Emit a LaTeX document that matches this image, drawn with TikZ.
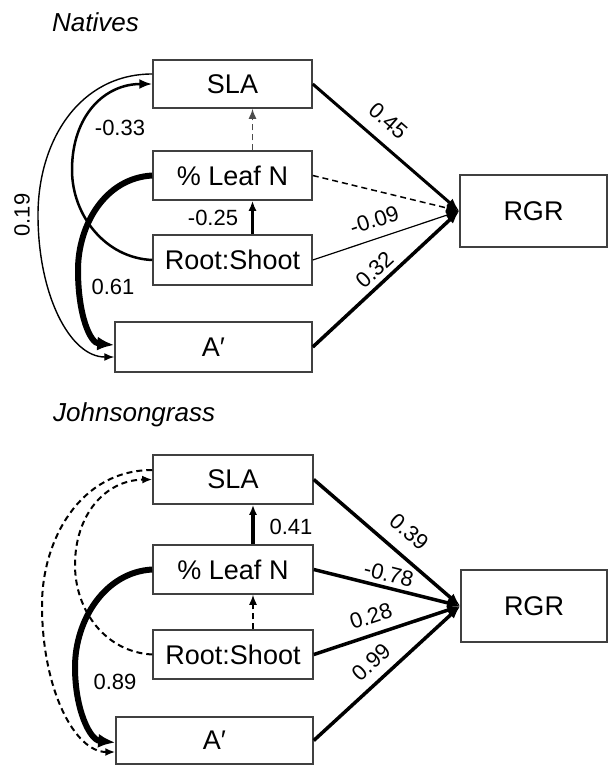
\documentclass[tikz,border=0pt]{standalone}
\usepackage{fontspec}
\setmainfont{Liberation Sans}
\usetikzlibrary{arrows.meta}
\begin{document}
\begin{tikzpicture}[x=1pt,y=-1pt,
  box/.style={draw=black!75,line width=1.5pt,rectangle,inner sep=0pt,font=\fontsize{27}{30}\selectfont},
  lbl/.style={font=\fontsize{22}{26}\selectfont,inner sep=0pt},
  ttl/.style={font=\fontsize{26}{30}\selectfont\itshape,anchor=west,inner sep=0pt},
  tipS/.style={-{Latex[length=10pt,width=8pt]}},
  tipM/.style={-{Latex[length=13pt,width=10pt]}},
  tipL/.style={-{Latex[length=17pt,width=14pt]}},
  dsh/.style={dash pattern=on 6pt off 4pt},
  slbl/.style={lbl,sloped}]
\useasboundingbox (0,0) rectangle (608,766);

% ---------- Natives ----------
\node[ttl] (t1) at (52,22) {Natives};
\node[box,minimum width=159pt,minimum height=48pt] (sla1) at (232.5,84) {SLA};
\node[box,minimum width=159pt,minimum height=49pt] (ln1) at (232.5,175.5) {\% Leaf N};
\node[box,minimum width=159pt,minimum height=50pt] (rs1) at (232.5,260) {Root:Shoot};
\node[box,minimum width=197pt,minimum height=50pt] (a1) at (213.5,347) {A′};
\node[box,minimum width=147pt,minimum height=72pt] (rgr1) at (533.5,211) {RGR};

\draw[line width=3pt,tipM] (sla1.east) -- node[slbl,pos=0.42,above=12pt]{0.45} (rgr1.west);
\draw[line width=1.5pt,dsh,tipM] (ln1.east) -- (rgr1.west);
\draw[line width=1.2pt,tipM] (rs1.east) -- node[slbl,pos=0.46,above=10pt]{-0.09} (rgr1.west);
\draw[line width=3.5pt,tipM] (a1.east) -- node[slbl,pos=0.49,above=5pt]{0.32} (rgr1.west);

\draw[line width=3pt,tipS] ([xshift=20pt]rs1.north) -- ([xshift=20pt]ln1.south);
\draw[line width=1.5pt,black!70,dsh,tipS] ([xshift=20pt]ln1.north) -- ([xshift=20pt]sla1.south);

\draw[line width=1.4pt,tipS] ([yshift=10pt]sla1.west) .. controls (80,74) and (38,140) .. (38,215)
  .. controls (38,295) and (70,357) .. ([yshift=-10pt]a1.west);
\draw[line width=2.5pt,tipM] (rs1.west) .. controls (105,258) and (72,215) .. (72,170)
  .. controls (72,115) and (105,84) .. (sla1.west);
\draw[line width=6pt,tipL] (ln1.west) .. controls (105,178) and (78,225) .. (78,270)
  .. controls (78,315) and (90,343) .. ([yshift=2pt]a1.west);

\node[lbl,rotate=90] (l019) at (22,215) {0.19};
\node[lbl] (l033) at (120,128) {-0.33};
\node[lbl] (l025) at (213,218) {-0.25};
\node[lbl] (l061) at (113,287) {0.61};

% ---------- Johnsongrass ----------
\node[ttl] (t2) at (53,415) {Johnsongrass};
\node[box,minimum width=160pt,minimum height=49pt] (sla2) at (233,479.5) {SLA};
\node[box,minimum width=160pt,minimum height=49pt] (ln2) at (233,569.5) {\% Leaf N};
\node[box,minimum width=160pt,minimum height=49pt] (rs2) at (233,654.5) {Root:Shoot};
\node[box,minimum width=197pt,minimum height=47pt] (a2) at (214.5,740.5) {A′};
\node[box,minimum width=146pt,minimum height=72pt] (rgr2) at (534,606) {RGR};

\draw[line width=3.5pt,tipM] (sla2.east) -- node[slbl,pos=0.55,above=13pt]{0.39} (rgr2.west);
\draw[line width=3.5pt,tipM] (ln2.east) -- node[slbl,pos=0.49,above=4pt]{-0.78} (rgr2.west);
\draw[line width=3.5pt,tipM] (rs2.east) -- node[slbl,pos=0.43,above=9pt]{0.28} (rgr2.west);
\draw[line width=3.5pt,tipM] (a2.east) -- node[slbl,pos=0.48,above=9pt]{0.99} (rgr2.west);

\draw[line width=3.5pt,tipS] ([xshift=20pt]ln2.north) -- ([xshift=20pt]sla2.south);
\draw[line width=1.5pt,dsh,tipS] ([xshift=20pt]rs2.north) -- ([xshift=20pt]ln2.south);

\draw[line width=2pt,dsh,tipS] ([yshift=9.5pt]sla2.west) .. controls (80,470) and (42,540) .. (42,605)
  .. controls (42,690) and (75,752) .. ([yshift=-11.5pt]a2.west);
\draw[line width=2pt,dsh,tipS] (rs2.west) .. controls (105,652) and (75,610) .. (75,565)
  .. controls (75,515) and (105,480) .. (sla2.west);
\draw[line width=6pt,tipL] (ln2.west) .. controls (105,572) and (75,620) .. (75,667)
  .. controls (75,710) and (90,740) .. ([yshift=-2pt]a2.west);

\node[lbl] (l041) at (291,527) {0.41};
\node[lbl] (l089) at (115,682) {0.89};
\end{tikzpicture}
\end{document}
